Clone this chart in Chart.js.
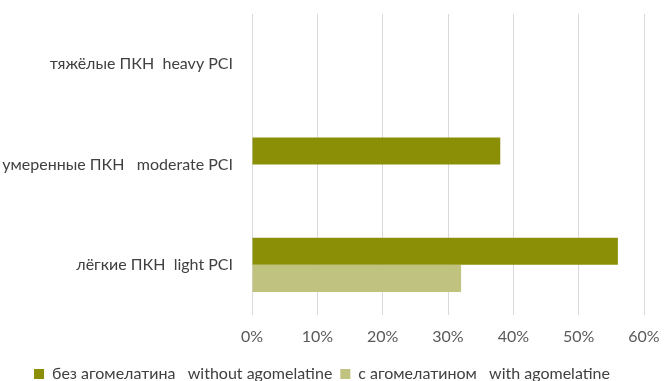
<!DOCTYPE html>
<html>
<head>
<meta charset="utf-8">
<script src="https://cdn.jsdelivr.net/npm/chart.js@4"></script>
<style>
  html, body { margin: 0; padding: 0; background: #fff; overflow: hidden; }
  #wrap { width: 669px; height: 381px; overflow: hidden; }
</style>
</head>
<body>
<div id="wrap"><canvas id="myChart" width="669" height="392"></canvas></div>
<script>
// категории сверху вниз
const categories = ['тяжёлые ПКН  heavy PCI', 'умеренные ПКН   moderate PCI', 'лёгкие ПКН  light PCI'];
const seriesNames = ['без агомелатина   without agomelatine', 'с агомелатином   with agomelatine'];
const withoutAgo = [0, 38, 56];
const withAgo = [0, 0, 32];
const tickValues = [0, 10, 20, 30, 40, 50, 60];

const font = { family: "Lato, 'Open Sans', sans-serif", size: 16 };

new Chart('myChart', {
  type: 'bar',
  data: {
    labels: categories,
    datasets: [
      {
        label: seriesNames[0],
        data: withoutAgo,
        backgroundColor: '#8a8f05',
        barPercentage: 1,
        categoryPercentage: 0.54
      },
      {
        label: seriesNames[1],
        data: withAgo,
        backgroundColor: '#c0c27f',
        barPercentage: 1,
        categoryPercentage: 0.54
      }
    ]
  },
  options: {
    indexAxis: 'y',
    responsive: false,
    animation: false,
    layout: { padding: { top: 14, right: 25, left: 0, bottom: 0 } },
    scales: {
      x: {
        min: 0,
        max: 60,
        afterBuildTicks: (axis) => { axis.ticks = tickValues.map(v => ({ value: v })); },
        grid: { color: '#d9d9d9', lineWidth: 1, drawTicks: false },
        border: { display: false },
        ticks: { padding: 12, color: '#595959', font: font, callback: v => v + '%' },
        // фиксируем высоту оси и убираем лишние отступы
        afterFit: (axis) => { axis.height = 43; axis.paddingLeft = 0; axis.paddingRight = 0; }
      },
      y: {
        grid: { display: false, drawTicks: false },
        border: { display: false },
        ticks: { padding: 19, color: '#404040', font: font },
        afterFit: (axis) => { axis.width = 252; axis.paddingTop = 0; axis.paddingBottom = 0; }
      }
    },
    plugins: {
      legend: {
        position: 'bottom',
        labels: { boxWidth: 10, boxHeight: 10, padding: 8, color: '#404040', font: font }
      },
      tooltip: { enabled: false }
    }
  }
});
</script>
</body>
</html>
